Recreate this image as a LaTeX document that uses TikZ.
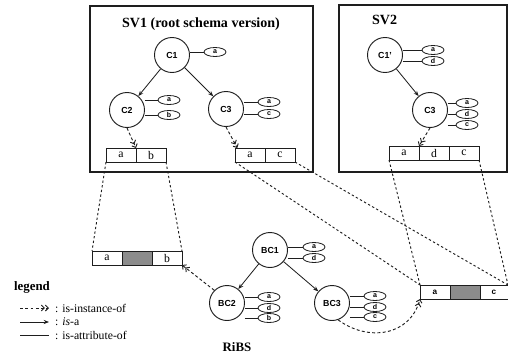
\documentclass[tikz,border=0pt]{standalone}
\usepackage{xcolor}
\usepackage{fontspec}
\setmainfont{Liberation Serif}
\setsansfont{Liberation Sans}
\usetikzlibrary{shapes.geometric, arrows.meta, positioning, calc}
\definecolor{inkline}{RGB}{30, 30, 30}
\definecolor{cellshade}{RGB}{140, 140, 140}

\tikzset{
  classnode/.style={circle, draw=inkline, line width=0.8pt, minimum size=1.05cm, inner sep=0pt,
                    font=\sffamily\bfseries\fontsize{7.5}{8}\selectfont},
  attrnode/.style={ellipse, draw=inkline, line width=0.7pt, minimum width=0.66cm, minimum height=0.27cm,
                   inner sep=0pt, font=\sffamily\bfseries\fontsize{6}{6}\selectfont},
  cellnode/.style={rectangle, draw=inkline, line width=0.7pt, minimum width=0.9cm, minimum height=0.42cm,
                   inner sep=0pt, outer sep=0pt, font=\fontsize{10}{11}\selectfont},
  shadecell/.style={cellnode, fill=cellshade},
  isa/.style={-{Stealth[length=4.5pt,width=3.5pt]}, line width=0.7pt, draw=inkline},
  instof/.style={-{Straight Barb[length=2.5pt,width=5pt] Straight Barb[length=2.5pt,width=5pt]},
                 dash pattern=on 2.5pt off 2pt, line width=0.8pt, draw=inkline},
  mapline/.style={dash pattern=on 2pt off 2pt, line width=0.8pt, draw=inkline},
  attrof/.style={line width=0.7pt, draw=inkline},
  framebox/.style={line width=0.9pt, draw=inkline}
}

\begin{document}
\begin{tikzpicture}[x=0.03cm, y=-0.03cm]
            \useasboundingbox (0,0) rectangle (508,358);

            % schema version frames
            \draw[framebox] (90,6) rectangle (313,172);
            \draw[framebox] (339,5) rectangle (507,172);
            \node[font=\bfseries\fontsize{12}{14}\selectfont] (sv1title) at (201,24) {SV1 (root schema version)};
            \node[anchor=west, font=\bfseries\fontsize{12}{14}\selectfont] (sv2title) at (368,20) {SV2};

            % SV1
            \node[classnode] (c1) at (172,55) {C1};
            \node[attrnode] (c1a) at (215,52) {a};
            \node[classnode] (c2) at (127,110) {C2};
            \node[attrnode] (c2a) at (169,100) {a};
            \node[attrnode] (c2b) at (169,115) {b};
            \node[classnode] (c3) at (226,109) {C3};
            \node[attrnode] (c3a) at (269,102) {a};
            \node[attrnode] (c3c) at (269,114) {c};

            \node[cellnode, anchor=west] (rc2a) at (106,155) {a};
            \node[cellnode, right=0pt of rc2a] (rc2b) {b};
            \node[cellnode, anchor=west] (rc3a) at (235,155) {a};
            \node[cellnode, right=0pt of rc3a] (rc3c) {c};

            \draw[attrof] (c1.east |- c1a) -- (c1a.west);
            \draw[attrof] (c2.east |- c2a) -- (c2a.west);
            \draw[attrof] (c2.east |- c2b) -- (c2b.west);
            \draw[attrof] (c3.east |- c3a) -- (c3a.west);
            \draw[attrof] (c3.east |- c3c) -- (c3c.west);
            \draw[isa] (c1) -- (c2);
            \draw[isa] (c1) -- (c3);
            \draw[instof] (c2.south) -- (rc2a.north east);
            \draw[instof] (c3.south) -- ([xshift=2pt]rc3a.north west);

            % SV2
            \node[classnode] (s2c1) at (385,55) {C1'};
            \node[attrnode] (s2c1a) at (433,50) {a};
            \node[attrnode] (s2c1d) at (433,61) {d};
            \node[classnode] (s2c3) at (430,110) {C3};
            \node[attrnode] (s2c3a) at (467,103) {a};
            \node[attrnode] (s2c3d) at (467,114) {d};
            \node[attrnode] (s2c3c) at (467,125) {c};

            \node[cellnode, anchor=west] (rs2a) at (389,153) {a};
            \node[cellnode, right=0pt of rs2a] (rs2d) {d};
            \node[cellnode, right=0pt of rs2d] (rs2c) {c};

            \draw[attrof] (s2c1.east |- s2c1a) -- (s2c1a.west);
            \draw[attrof] (s2c1.east |- s2c1d) -- (s2c1d.west);
            \draw[attrof] (s2c3.east |- s2c3a) -- (s2c3a.west);
            \draw[attrof] (s2c3.east |- s2c3d) -- (s2c3d.west);
            \draw[attrof] (s2c3.east |- s2c3c) -- (s2c3c.west);
            \draw[isa] (s2c1) -- (s2c3);
            \draw[instof] (s2c3.south) -- (rs2a.north east);

            % RiBS
            \node[classnode] (bc1) at (270,250) {BC1};
            \node[attrnode] (bc1a) at (314,247) {a};
            \node[attrnode] (bc1d) at (314,258) {d};
            \node[classnode] (bc2) at (227,303) {BC2};
            \node[attrnode] (bc2a) at (269,297) {a};
            \node[attrnode] (bc2d) at (269,308) {d};
            \node[attrnode] (bc2b) at (269,318) {b};
            \node[classnode] (bc3) at (332,303) {BC3};
            \node[attrnode] (bc3a) at (375,296) {a};
            \node[attrnode] (bc3d) at (375,307) {d};
            \node[attrnode] (bc3c) at (375,317) {c};
            \node[font=\bfseries\fontsize{11}{13}\selectfont] (ribs) at (237,347) {RiBS};

            \node[cellnode, anchor=west] (r1a) at (92,258) {a};
            \node[shadecell, right=0pt of r1a] (r1s) {};
            \node[cellnode, right=0pt of r1s] (r1b) {b};
            \node[cellnode, anchor=west, font=\sffamily\bfseries\fontsize{7}{8}\selectfont] (r2a) at (420,292) {a};
            \node[shadecell, right=0pt of r2a] (r2s) {};
            \node[cellnode, right=0pt of r2s, minimum width=0.84cm, font=\sffamily\bfseries\fontsize{7}{8}\selectfont] (r2c) {c};

            \draw[attrof] (bc1.east |- bc1a) -- (bc1a.west);
            \draw[attrof] (bc1.east |- bc1d) -- (bc1d.west);
            \draw[attrof] (bc2.east |- bc2a) -- (bc2a.west);
            \draw[attrof] (bc2.east |- bc2d) -- (bc2d.west);
            \draw[attrof] (bc2.east |- bc2b) -- (bc2b.west);
            \draw[attrof] (bc3.east |- bc3a) -- (bc3a.west);
            \draw[attrof] (bc3.east |- bc3d) -- (bc3d.west);
            \draw[attrof] (bc3.east |- bc3c) -- (bc3c.west);
            \draw[isa] (bc1) -- (bc2);
            \draw[isa] (bc1) -- (bc3);
            \draw[instof] (bc2.north west) -- (r1b.south east);
            \draw[instof] (bc3.-70) .. controls (368,342) and (410,336) .. (r2a.south west);

            % record mappings
            \draw[mapline] (rc2a.south west) -- (r1a.north west);
            \draw[mapline] (rc2b.south east) -- (r1b.north east);
            \draw[mapline] (rc3a.south west) -- (r2a.north west);
            \draw[mapline] (rc3c.south east) -- (r2c.north east);
            \draw[mapline] (rs2a.south west) -- (r2a.north west);
            \draw[mapline] (rs2c.south east) -- (r2c.north east);

            % legend
            \node[font=\bfseries\fontsize{11}{13}\selectfont] (legendtitle) at (32,287) {legend};
            \coordinate (lg1s) at (20,308);
            \coordinate (lg1e) at (49,308);
            \coordinate (lg2s) at (20,322);
            \coordinate (lg2e) at (49,322);
            \coordinate (lg3s) at (20,335);
            \coordinate (lg3e) at (49,335);
            \draw[instof] (lg1s) -- (lg1e);
            \draw[isa] (lg2s) -- (lg2e);
            \draw[attrof] (lg3s) -- (lg3e);
            \node[anchor=west, font=\fontsize{10}{11}\selectfont] (lg1t) at (51,308) {: is-instance-of};
            \node[anchor=west, font=\fontsize{10}{11}\selectfont] (lg2t) at (51,322) {: \textit{is}-a};
            \node[anchor=west, font=\fontsize{10}{11}\selectfont] (lg3t) at (51,335) {: is-attribute-of};
        \end{tikzpicture}
\end{document}
